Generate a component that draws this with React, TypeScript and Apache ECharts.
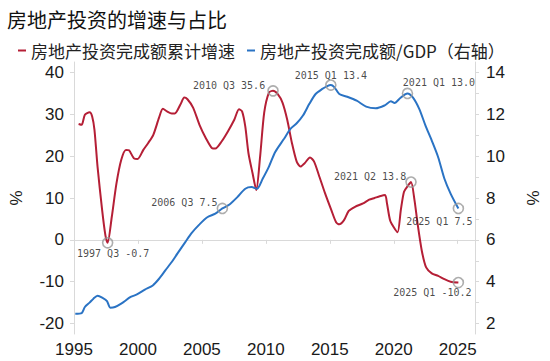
import React, { useEffect, useRef } from "react";
import * as echarts from "echarts";

const TITLE = "房地产投资的增速与占比";
const RED_NAME = "房地产投资完成额累计增速";
const BLUE_NAME = "房地产投资完成额/GDP（右轴）";

const yearTicks = [1995, 2000, 2005, 2010, 2015, 2020, 2025];
const leftTicks = [-20, -10, 0, 10, 20, 30, 40];
const rightTicks = [2, 4, 6, 8, 10, 12, 14];
const rightMinorTicks = [2, 3, 4, 5, 6, 7, 8, 9, 10, 11, 12, 13, 14];

// 房地产投资完成额累计增速 (%), x = decimal year
const redX = [
  1995.36, 1995.6, 1995.85, 1996.22, 1996.42, 1996.6, 1996.84, 1997.2, 1997.46, 1997.63,
  1997.95, 1998.32, 1998.69, 1999.06, 1999.3, 1999.68, 1999.97, 2000.42, 2000.79, 2001.2,
  2001.65, 2001.95, 2002.27, 2002.64, 2002.88, 2003.33, 2003.62, 2003.87, 2004.31, 2004.81,
  2005.31, 2005.8, 2006.05, 2006.54, 2007.03, 2007.53, 2007.9, 2008.14, 2008.39, 2008.64,
  2008.96, 2009.25, 2009.55, 2009.87, 2010.24, 2010.56, 2010.93, 2011.3, 2011.67, 2012.04,
  2012.41, 2012.71, 2013.03, 2013.45, 2013.77, 2014.14, 2014.63, 2015.12, 2015.49, 2015.74,
  2016.11, 2016.48, 2016.97, 2017.6, 2018.08, 2018.5, 2018.9, 2019.32, 2019.47, 2019.71,
  2020.0, 2020.3, 2020.55, 2020.8, 2021.1, 2021.35, 2021.62, 2021.86, 2022.19, 2022.53,
  2022.97, 2023.47, 2023.96, 2024.45, 2025.05,
];
const redY = [
  27.7, 27.5, 29.9, 30.5, 29.5, 26.3, 17.5, 7.1, 1.0, -0.7,
  5.4, 13.5, 19.1, 21.5, 21.4, 19.5, 19.3, 21.5, 23.1, 25.1,
  29.2, 31.3, 30.7, 30.2, 30.2, 32.4, 34.0, 33.6, 31.6, 27.5,
  24.3, 21.9, 21.8, 23.5, 25.9, 28.7, 31.2, 30.7, 27.1, 20.7,
  15.9, 11.9, 19.9, 30.4, 35.2, 35.6, 34.8, 32.8, 28.7, 23.1,
  18.7, 17.5, 18.3, 19.7, 18.7, 15.5, 11.1, 7.1, 4.2, 3.7,
  4.7, 6.9, 7.9, 8.7, 9.6, 10.0, 10.4, 10.7, 8.7, 4.7,
  3.0, 1.8, 7.1, 11.5, 12.9, 13.8, 9.5, 3.9, -2.6, -6.6,
  -8.0, -8.6, -9.4, -10.0, -10.2,
];

// 房地产投资完成额/GDP (%), right axis
const blueX = [
  1995.1, 1995.6, 1995.85, 1996.22, 1996.52, 1996.84, 1997.2, 1997.58, 1997.83, 1998.2,
  1998.69, 1999.43, 1999.92, 2000.54, 2001.16, 2001.65, 2002.14, 2002.64, 2003.08, 2003.7,
  2004.19, 2004.81, 2005.42, 2006.05, 2006.6, 2007.16, 2007.77, 2008.39, 2008.88, 2009.3,
  2009.75, 2010.24, 2010.73, 2011.42, 2011.92, 2012.41, 2012.9, 2013.4, 2013.89, 2014.38,
  2014.8, 2015.08, 2015.35, 2015.74, 2016.36, 2017.1, 2017.84, 2018.58, 2019.27, 2019.77,
  2020.06, 2020.51, 2020.88, 2021.07, 2021.49, 2021.99, 2022.48, 2022.97, 2023.47, 2023.96,
  2024.45, 2025.05,
];
const blueY = [
  2.47, 2.5, 2.79, 3.0, 3.19, 3.33, 3.24, 3.07, 2.76, 2.79,
  2.95, 3.27, 3.39, 3.62, 3.82, 4.14, 4.54, 4.94, 5.34, 5.89,
  6.32, 6.74, 7.08, 7.25, 7.5, 7.69, 8.04, 8.44, 8.52, 8.44,
  8.92, 9.5, 10.2, 10.83, 11.3, 11.57, 11.94, 12.5, 12.97, 13.2,
  13.35, 13.4, 13.3, 12.97, 12.84, 12.65, 12.37, 12.29, 12.42, 12.62,
  12.54, 12.78, 12.95, 13.0, 12.81, 12.26, 11.46, 10.74, 9.95, 8.92,
  8.2, 7.5,
];

// annotated points
const annoText = [
  "1997 Q3 -0.7", "2006 Q3 7.5", "2010 Q3 35.6", "2015 Q1 13.4",
  "2021 Q1 13.0", "2021 Q2 13.8", "2025 Q1 7.5", "2025 Q1 -10.2",
];
const annoX = [1997.63, 2006.6, 2010.56, 2015.08, 2021.07, 2021.35, 2025.05, 2025.05];
const annoY = [-0.7, 7.5, 35.6, 13.4, 13.0, 13.8, 7.5, -10.2];
const annoAxis = [0, 1, 0, 1, 1, 0, 1, 0];

const RED = "#b51f36";
const BLUE = "#2a73c4";
const AXIS_GRAY = "#d9d9d9";
const labelOffsets: number[][] = [
  [5.5, 11], [-38, -6], [-44, -5], [0, -10], [31.5, -10.7], [-41, -5.6], [-19, 13.4], [-26, 10],
];

function zip(xs: number[], ys: number[]) {
  return xs.map((x, i) => [x, ys[i]]);
}

function annoSeries(axis: number) {
  const data: any[] = [];
  annoText.forEach((t, i) => {
    if (annoAxis[i] !== axis) return;
    data.push({
      value: [annoX[i], annoY[i]],
      label: { formatter: t, offset: labelOffsets[i] },
    });
  });
  return {
    type: "scatter",
    yAxisIndex: axis,
    symbol: "circle",
    symbolSize: 10,
    z: 5,
    itemStyle: { color: "rgba(0,0,0,0)", borderColor: "#999", borderWidth: 1.6 },
    label: {
      show: true,
      position: "inside",
      align: "center",
      verticalAlign: "middle",
      fontFamily: "DejaVu Sans Mono",
      fontSize: 10,
      color: "#1a1a1a",
    },
    data,
  };
}

const axisFont = { fontFamily: "Liberation Sans", fontSize: 17, color: "#1a1a1a" };

export default function App() {
  const ref = useRef<HTMLDivElement>(null);
  useEffect(() => {
    if (!ref.current) return;
    const chart = echarts.init(ref.current, null, { renderer: "svg" });
    const option: any = {
      animation: false,
      backgroundColor: "#ffffff",
      title: {
        text: TITLE,
        left: 2,
        top: 4,
        textStyle: { fontFamily: "Noto Sans CJK SC", fontSize: 20, fontWeight: "normal", color: "#111" },
      },
      legend: {
        left: 13,
        top: 37,
        icon: "rect",
        itemWidth: 8,
        itemHeight: 2,
        itemGap: 12,
        textStyle: { fontFamily: "Noto Sans CJK SC", fontSize: 17, color: "#222" },
        data: [RED_NAME, BLUE_NAME],
      },
      grid: { left: 65.5, right: 61, top: 62, bottom: 27 },
      xAxis: {
        type: "value",
        min: 1995,
        max: 2026.35,
        splitLine: { show: false },
        axisLine: { show: true, lineStyle: { color: AXIS_GRAY } },
        axisTick: { show: true, length: 4, lineStyle: { color: AXIS_GRAY }, customValues: yearTicks },
        axisLabel: { ...axisFont, margin: 7, customValues: yearTicks, formatter: (v: number) => String(v) },
      },
      yAxis: [
        {
          type: "value",
          min: -22.5,
          max: 42.5,
          position: "left",
          name: "%",
          nameLocation: "middle",
          nameGap: 49,
          nameTextStyle: { ...axisFont },
          splitLine: { show: false },
          axisLine: { show: true, lineStyle: { color: AXIS_GRAY } },
          axisTick: { show: true, length: 4, lineStyle: { color: AXIS_GRAY }, customValues: leftTicks },
          axisLabel: { ...axisFont, margin: 10, customValues: leftTicks },
        },
        {
          type: "value",
          min: 1.5,
          max: 14.5,
          position: "right",
          name: "%",
          nameLocation: "middle",
          nameGap: 50,
          nameTextStyle: { ...axisFont },
          splitLine: { show: false },
          axisLine: { show: true, lineStyle: { color: AXIS_GRAY } },
          axisTick: { show: true, length: 4, lineStyle: { color: AXIS_GRAY }, customValues: rightMinorTicks },
          axisLabel: { ...axisFont, margin: 11, customValues: rightTicks },
        },
      ],
      series: [
        {
          name: RED_NAME,
          type: "line",
          yAxisIndex: 0,
          data: zip(redX, redY),
          showSymbol: false,
          smooth: 0.25,
          color: RED,
          lineStyle: { width: 2, color: RED },
        },
        {
          name: BLUE_NAME,
          type: "line",
          yAxisIndex: 1,
          data: zip(blueX, blueY),
          showSymbol: false,
          smooth: 0.25,
          color: BLUE,
          lineStyle: { width: 2, color: BLUE },
        },
        annoSeries(0),
        annoSeries(1),
      ],
    };
    chart.setOption(option);
    return () => chart.dispose();
  }, []);
  return <div ref={ref} style={{ position: "fixed", left: 0, top: 0, width: 550, height: 361 }} />;
}
